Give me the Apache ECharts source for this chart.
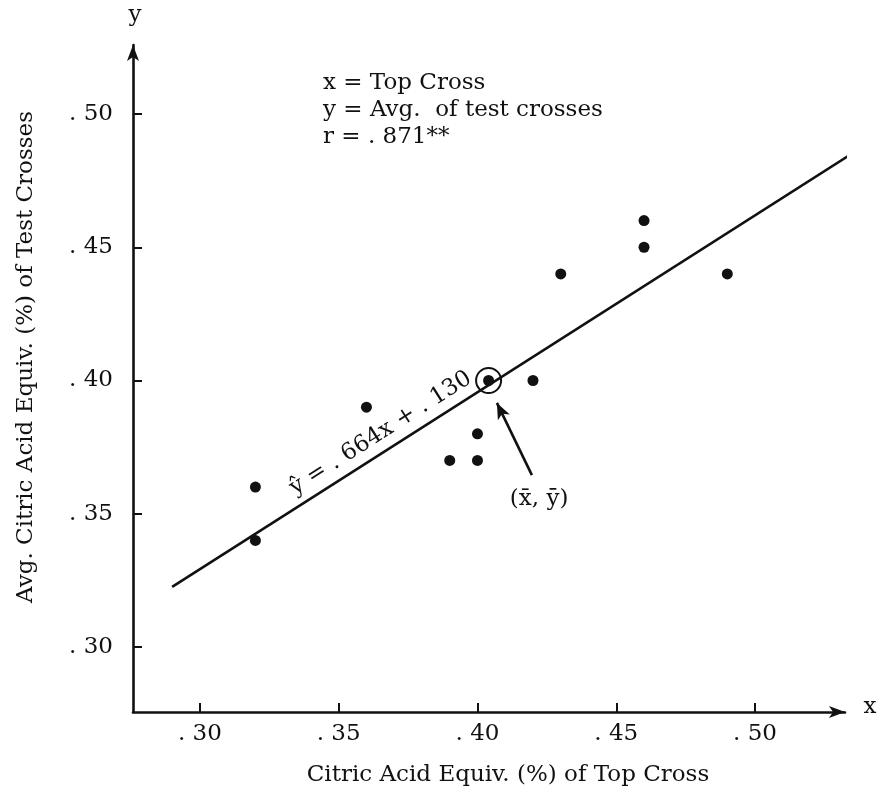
<!DOCTYPE html>
<html>
<head>
<meta charset="utf-8">
<script src="https://cdn.jsdelivr.net/npm/echarts@6/dist/echarts.min.js"></script>
<style>
  html, body { margin: 0; padding: 0; background: #fff; }
  #chart { width: 882px; height: 793px; }
</style>
</head>
<body>
<div id="chart"></div>
<script>
// Citric acid equivalent (%): top cross vs. average of the test crosses
const topCross     = [0.32, 0.32, 0.36, 0.39, 0.40, 0.40, 0.42, 0.43, 0.46, 0.46, 0.49];
const testCrossAvg = [0.36, 0.34, 0.39, 0.37, 0.37, 0.38, 0.40, 0.44, 0.46, 0.45, 0.44];
const meanPoint = [0.404, 0.40];

// Fitted regression  y^ = .664x + .130, drawn over this x range
const slope = 0.664;
const intercept = 0.130;
const fitRange = [0.29, 0.535];

const tickValues = [0.30, 0.35, 0.40, 0.45, 0.50];
const tickLabels = ['. 30', '. 35', '. 40', '. 45', '. 50'];

const xTitle = 'Citric Acid Equiv. (%) of Top Cross';
const yTitle = 'Avg. Citric Acid Equiv. (%) of Test Crosses';
const noteLines = ['x = Top Cross', 'y = Avg.  of test crosses', 'r = . 871**'];
const equationText = 'ŷ = . 664x + . 130';
const meanText = '(x̄, ȳ)';

// Annotation anchors in data units
const equationAt = 0.3685;
const arrowFrom = [0.4196, 0.3645];
const arrowTo = [0.4070, 0.3916];
const meanLabelAt = [0.4222, 0.3555];

const FONT = '"DejaVu Serif", "Liberation Serif", serif';
const FS = 23;
const INK = '#111';

const chart = echarts.init(document.getElementById('chart'), null, { renderer: 'canvas' });

function tickText(v) {
  const i = tickValues.findIndex(t => Math.abs(t - v) < 1e-9);
  return i >= 0 ? tickLabels[i] : '';
}

const axisCommon = {
  type: 'value',
  axisLine: {
    show: true,
    symbol: ['none', 'arrow'],
    symbolSize: [9, 16],
    lineStyle: { color: INK, width: 2.6 }
  },
  axisTick: {
    show: true,
    inside: true,
    length: 9,
    customValues: tickValues,
    lineStyle: { color: INK, width: 2 }
  },
  axisLabel: {
    customValues: tickValues,
    formatter: tickText,
    color: INK,
    fontFamily: FONT,
    fontSize: FS
  },
  splitLine: { show: false }
};

const fitData = fitRange.map(x => [x, slope * x + intercept]);

chart.setOption({
  animation: false,
  backgroundColor: '#fff',
  grid: { left: 133, right: 37, top: 45, bottom: 81, containLabel: false },
  xAxis: Object.assign({}, axisCommon, {
    min: 0.2759, max: 0.5324,
    axisLabel: Object.assign({}, axisCommon.axisLabel, { margin: 11 })
  }),
  yAxis: Object.assign({}, axisCommon, {
    min: 0.2756, max: 0.5259,
    axisLabel: Object.assign({}, axisCommon.axisLabel, { margin: 20 })
  }),
  series: [
    {
      name: 'fit',
      type: 'line',
      data: fitData,
      showSymbol: false,
      silent: true,
      lineStyle: { color: INK, width: 2.6 },
      z: 2
    },
    {
      name: 'crosses',
      type: 'scatter',
      data: topCross.map((x, i) => [x, testCrossAvg[i]]),
      symbol: 'circle',
      symbolSize: 11,
      itemStyle: { color: INK, opacity: 1 },
      z: 3
    },
    {
      name: 'mean',
      type: 'scatter',
      data: [meanPoint],
      symbol: 'circle',
      symbolSize: 11,
      itemStyle: { color: INK, opacity: 1 },
      z: 3,
      markLine: {
        silent: true,
        symbol: ['none', 'arrow'],
        symbolSize: [10, 16],
        lineStyle: { type: 'solid', color: INK, width: 2.6, opacity: 1 },
        label: { show: false },
        data: [[{ coord: arrowFrom }, { coord: arrowTo }]]
      }
    },
    {
      name: 'mean ring',
      type: 'scatter',
      data: [meanPoint],
      symbol: 'circle',
      symbolSize: 25,
      itemStyle: { color: 'rgba(0,0,0,0)', borderColor: INK, borderWidth: 2, opacity: 1 },
      silent: true,
      z: 4
    }
  ]
});

// Text annotations positioned through the chart's own coordinate system
function px(p) { return chart.convertToPixel({ gridIndex: 0 }, p); }

const p1 = px(fitData[0]);
const p2 = px(fitData[1]);
const angle = Math.atan2(p1[1] - p2[1], p2[0] - p1[0]);
const eqAnchor = px([equationAt, slope * equationAt + intercept]);
const gap = 6;
const eqX = eqAnchor[0] - Math.sin(angle) * gap;
const eqY = eqAnchor[1] - Math.cos(angle) * gap;
const mLabel = px(meanLabelAt);
const font = FS + 'px ' + FONT;

chart.setOption({
  graphic: [
    {
      type: 'text', x: 323, y: 70,
      style: { text: noteLines.join('\n'), font: font, fill: INK, lineHeight: 27 }
    },
    {
      type: 'text', x: eqX, y: eqY, rotation: angle,
      style: { text: equationText, font: font, fill: INK, align: 'center', verticalAlign: 'bottom' }
    },
    {
      type: 'text', x: mLabel[0], y: mLabel[1],
      style: { text: meanText, font: font, fill: INK, align: 'center', verticalAlign: 'middle' }
    },
    {
      type: 'text', x: 508, y: 775,
      style: { text: xTitle, font: font, fill: INK, align: 'center', verticalAlign: 'middle' }
    },
    {
      type: 'text', x: 26, y: 357, rotation: Math.PI / 2,
      style: { text: yTitle, font: font, fill: INK, align: 'center', verticalAlign: 'middle' }
    },
    {
      type: 'text', x: 135, y: 15,
      style: { text: 'y', font: font, fill: INK, align: 'center', verticalAlign: 'middle' }
    },
    {
      type: 'text', x: 870, y: 707,
      style: { text: 'x', font: font, fill: INK, align: 'center', verticalAlign: 'middle' }
    }
  ]
});
</script>
</body>
</html>
